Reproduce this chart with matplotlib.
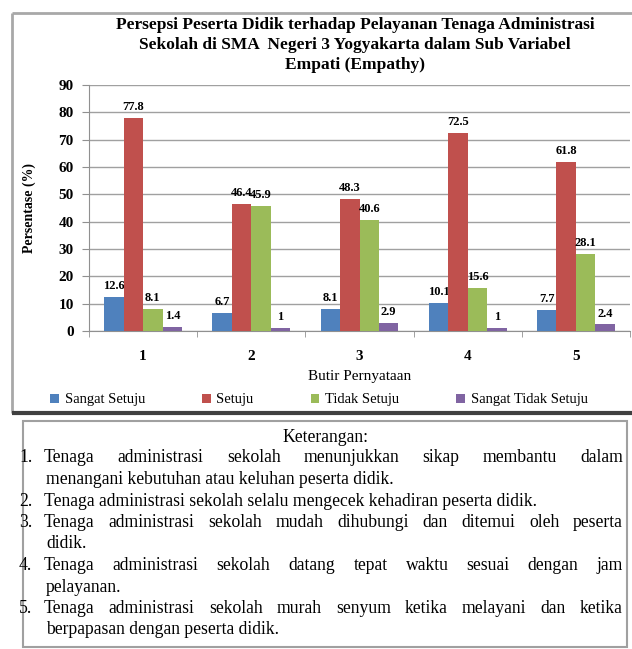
import matplotlib
matplotlib.use("Agg")
import matplotlib.pyplot as plt
from matplotlib.patches import Rectangle
import numpy as np

plt.rcParams['font.family'] = ['Liberation Serif', 'DejaVu Serif']

W, H = 632, 649

categories = ['1', '2', '3', '4', '5']
series_names = ['Sangat Setuju', 'Setuju', 'Tidak Setuju', 'Sangat Tidak Setuju']
sangat_setuju = [12.6, 6.7, 8.1, 10.1, 7.7]
setuju = [77.8, 46.4, 48.3, 72.5, 61.8]
tidak_setuju = [8.1, 45.9, 40.6, 15.6, 28.1]
sangat_tidak_setuju = [1.4, 1, 2.9, 1, 2.4]
colors = ['#4F81BD', '#C0504D', '#9BBB59', '#8064A2']

title = ("Persepsi Peserta Didik terhadap Pelayanan Tenaga Administrasi\n"
         "Sekolah di SMA  Negeri 3 Yogyakarta dalam Sub Variabel\n"
         "Empati (Empathy)")

keterangan = [
    ("1.", ["Tenaga administrasi sekolah menunjukkan sikap membantu dalam",
            "menangani kebutuhan atau keluhan peserta didik."]),
    ("2.", ["Tenaga administrasi sekolah selalu mengecek kehadiran peserta didik."]),
    ("3.", ["Tenaga administrasi sekolah mudah dihubungi dan ditemui oleh peserta",
            "didik."]),
    ("4.", ["Tenaga administrasi sekolah datang tepat waktu sesuai dengan jam",
            "pelayanan."]),
    ("5.", ["Tenaga administrasi sekolah murah senyum ketika melayani dan ketika",
            "berpapasan dengan peserta didik."]),
]

fig = plt.figure(figsize=(W / 100, H / 100), dpi=100)
fig.patch.set_facecolor('white')

# background layer in pixel coordinates for the frames and the notes
bg = fig.add_axes([0, 0, 1, 1], zorder=0)
bg.set_xlim(0, W)
bg.set_ylim(H, 0)
bg.axis('off')

bg.plot([12, 12], [13, 413], color='#a8a8a8', lw=2, solid_capstyle='butt')
bg.plot([12, W], [13, 13], color='#a8a8a8', lw=2, solid_capstyle='butt')
bg.plot([12, W], [413, 413], color='#404040', lw=3, solid_capstyle='butt')
bg.add_patch(Rectangle((23, 421), 604, 226, fill=False, ec='#a0a0a0', lw=1.5))

bg.text(355, 17, title, ha='center', va='top', fontsize=12.5, fontweight='bold',
        linespacing=1.35)

# chart
ax = fig.add_axes([89 / W, 1 - 331 / H, 541 / W, 246 / H], zorder=1)
ax.set_facecolor('none')
x = np.arange(len(categories))
width = 0.18
all_series = [sangat_setuju, setuju, tidak_setuju, sangat_tidak_setuju]
for i, (vals, name, c) in enumerate(zip(all_series, series_names, colors)):
    pos = x + (i - 1.5) * width
    bars = ax.bar(pos, vals, width, color=c, label=name, zorder=3)
    for b, v in zip(bars, vals):
        ax.text(b.get_x() + b.get_width() / 2, v + 1.8, f"{v:g}", ha='center',
                va='bottom', fontsize=9, fontweight='bold')

ax.set_ylim(0, 90)
ax.set_yticks(range(0, 91, 10))
ax.set_xlim(-0.5, len(categories) - 0.5)
ax.set_xticks(x)
ax.set_xticklabels(categories, fontsize=11, fontweight='bold')
ax.set_xticks(np.arange(-0.5, len(categories)), minor=True)
ax.tick_params(axis='x', which='major', length=0, pad=14)
ax.tick_params(axis='x', which='minor', length=4, color='#909090')
ax.tick_params(axis='y', length=5, color='#909090', labelsize=11, pad=6)
for lab in ax.get_yticklabels():
    lab.set_fontweight('bold')
ax.grid(axis='y', color='#a0a0a0', lw=1, zorder=0)
for s in ['top', 'right']:
    ax.spines[s].set_visible(False)
ax.spines['left'].set_color('#909090')
ax.spines['bottom'].set_color('#909090')
ax.set_ylabel('Persentase (%)', fontsize=10, fontweight='bold', labelpad=16)
ax.set_xlabel('Butir Pernyataan', fontsize=11, labelpad=5)

ax.legend(loc='upper center', bbox_to_anchor=(0.425, -0.2), ncol=4,
          frameon=False, fontsize=10.5, handlelength=0.6, handleheight=0.6,
          handletextpad=0.4, columnspacing=3.9)

# notes with justified lines
fig.canvas.draw()
renderer = fig.canvas.get_renderer()
fs = 12.7
bg.text(325, 437, "Keterangan:", ha='center', va='center', fontsize=fs)


def word_width(w):
    t = bg.text(0, 0, w, fontsize=fs)
    bb = t.get_window_extent(renderer)
    t.remove()
    return bb.width


def justify(line, left, right, y):
    words = line.split()
    widths = [word_width(w) for w in words]
    gap = (right - left - sum(widths)) / (len(words) - 1)
    xpos = left
    for w, wd in zip(words, widths):
        bg.text(xpos, y, w, ha='left', va='center', fontsize=fs)
        xpos += wd + gap


y = 458
step = 21.5
for num, lines in keterangan:
    bg.text(19, y, num, ha='left', va='center', fontsize=fs)
    for j, line in enumerate(lines):
        if len(lines) > 1 and j == 0:
            justify(line, 44, 623, y)
        else:
            bg.text(46 if j else 44, y, line, ha='left', va='center', fontsize=fs)
        y += step

fig.savefig('out.png', dpi=100)
